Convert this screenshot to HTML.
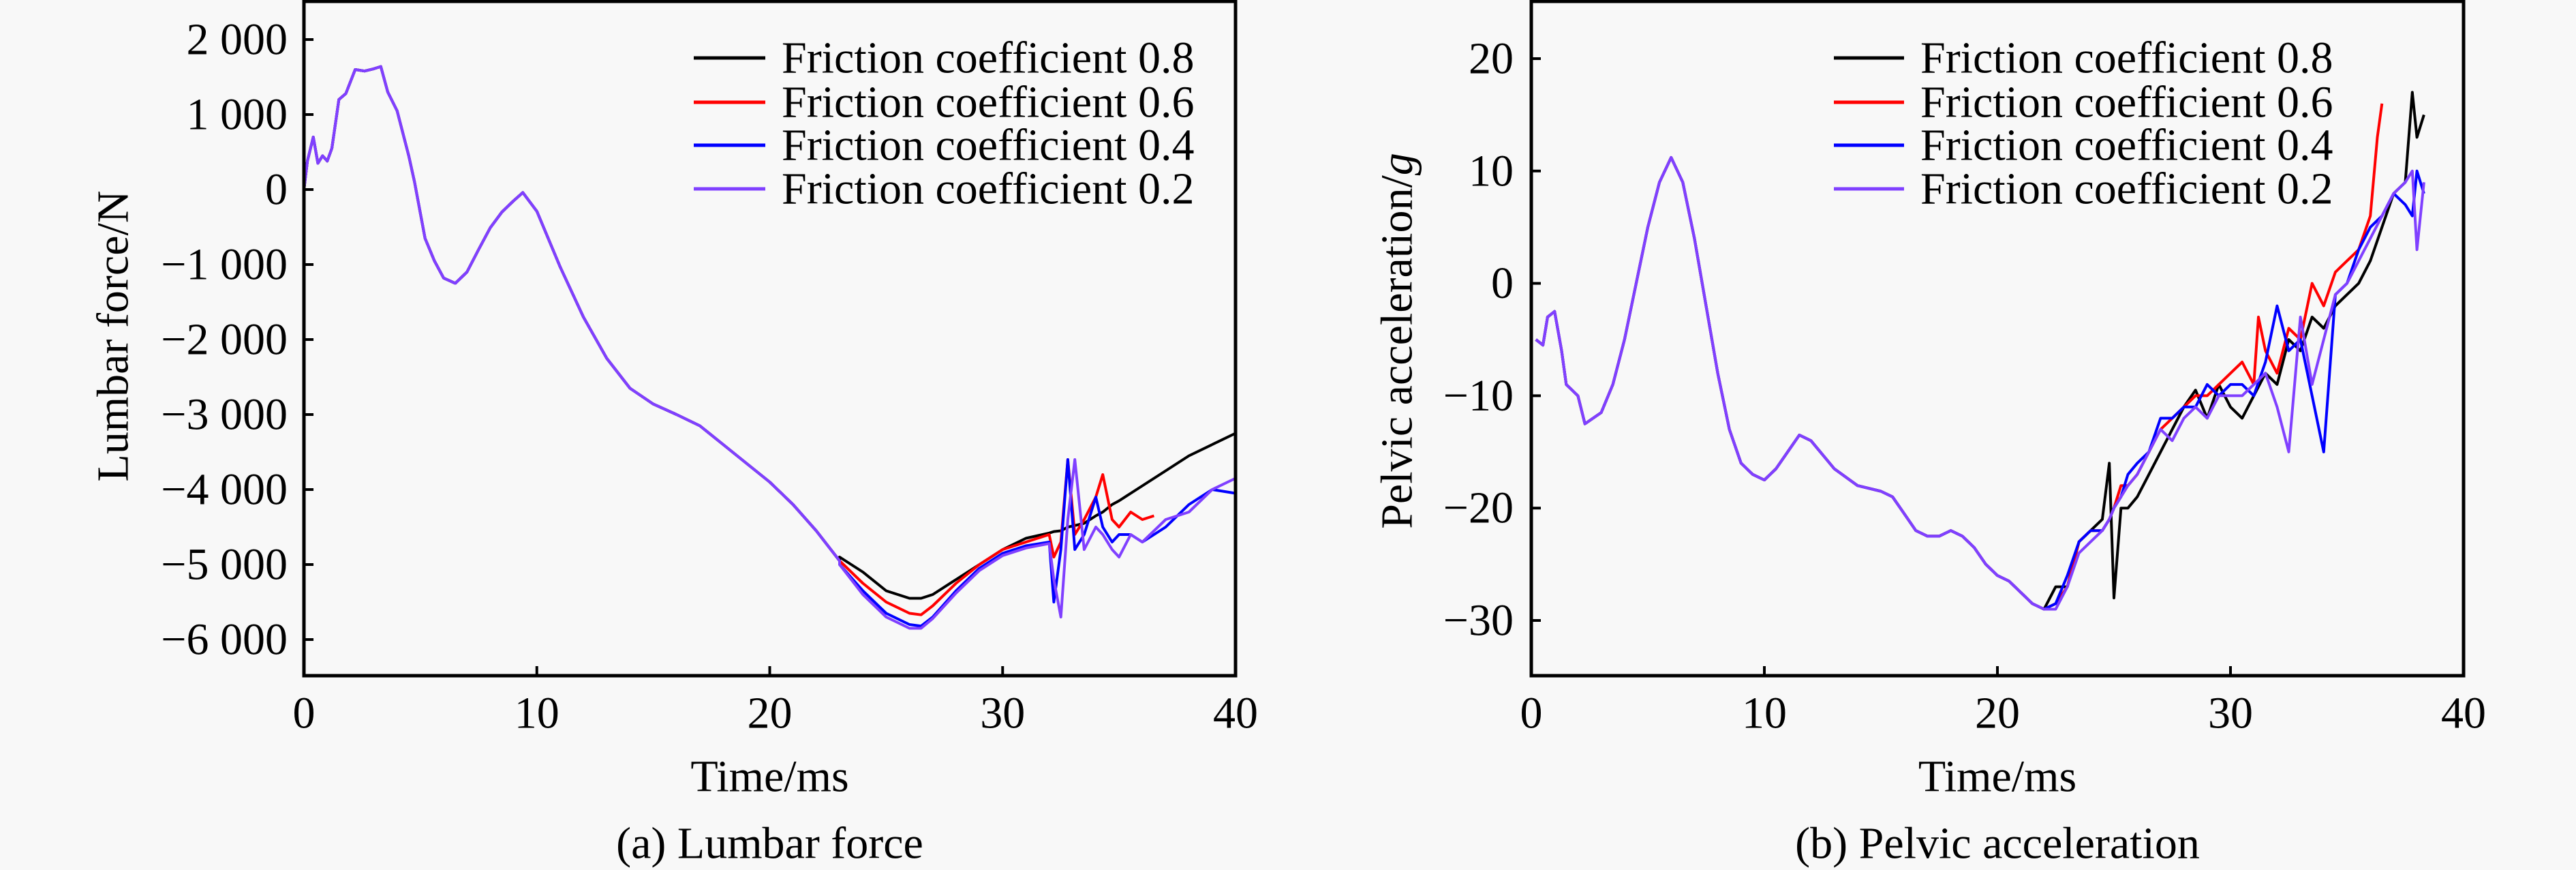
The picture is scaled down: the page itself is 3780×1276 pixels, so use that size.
<!DOCTYPE html>
<html><head><meta charset="utf-8"><style>
html,body{margin:0;padding:0;background:#f8f8f8;}
svg{display:block;font-family:"Liberation Serif","Times New Roman",serif;}
</style></head><body>
<svg id="fig" width="3780" height="1276" viewBox="0 0 3780 1276" xmlns="http://www.w3.org/2000/svg">
<rect x="0" y="0" width="3780" height="1276" fill="#f8f8f8"/>
</svg>
<script>
// ---- Shared
const seriesNames = ["Friction coefficient 0.8","Friction coefficient 0.6","Friction coefficient 0.4","Friction coefficient 0.2"];
const seriesColors = ["#000000","#ff0000","#0000ff","#8040ff"];
const xTicks = [0,10,20,30,40];

// ---- Plot (a) Lumbar force
const aYTicks = [2000,1000,0,-1000,-2000,-3000,-4000,-5000,-6000];
const aYTickLabels = ["2 000","1 000","0","\u22121 000","\u22122 000","\u22123 000","\u22124 000","\u22125 000","\u22126 000"];
const aEarlyT = [0,0.15,0.4,0.6,0.8,1.0,1.2,1.5,1.8,2.2,2.6,3.0,3.3,3.6,4,4.5,4.75,5.2,5.6,6,6.5,7,7.5,8,8.5,9,9.4,10,11,12,13,14,15,16,17,18,19,20,21,22,23];
const aEarlyV = [0,380,700,350,450,380,550,1200,1280,1600,1580,1610,1640,1300,1050,450,100,-650,-950,-1180,-1250,-1100,-800,-510,-300,-150,-40,-290,-1030,-1700,-2250,-2650,-2860,-3000,-3150,-3400,-3650,-3900,-4200,-4550,-4950];
const aTailT0 = [23,24,25,26,26.5,27,28,29,30,31,32,32.2,32.5,32.8,33.1,33.5,34,34.3,34.7,35,35.5,36,37,38,39,40];
const aTail08 = [-4900,-5100,-5350,-5450,-5450,-5400,-5200,-5000,-4800,-4650,-4580,-4560,-4550,-4500,-4480,-4450,-4350,-4300,-4200,-4150,-4050,-3950,-3750,-3550,-3400,-3250];
const aTailT06 = [23,24,25,26,26.5,27,28,29,30,31,32,32.2,32.5,32.8,33.1,33.5,34,34.3,34.7,35,35.5,36,36.5];
const aTail06 = [-4950,-5250,-5500,-5650,-5670,-5550,-5250,-5000,-4800,-4700,-4600,-4900,-4700,-3600,-4600,-4400,-4100,-3800,-4400,-4500,-4300,-4400,-4350];
const aTail04 = [-5000,-5350,-5650,-5800,-5820,-5700,-5350,-5050,-4850,-4750,-4700,-5500,-4800,-3600,-4800,-4600,-4100,-4500,-4700,-4600,-4600,-4700,-4500,-4200,-4000,-4050];
const aTail02 = [-5000,-5400,-5700,-5850,-5850,-5720,-5380,-5080,-4880,-4780,-4720,-5200,-5700,-4400,-3600,-4800,-4500,-4600,-4800,-4900,-4600,-4700,-4400,-4300,-4000,-3850];

// ---- Plot (b) Pelvic acceleration
const bYTicks = [20,10,0,-10,-20,-30];
const bYTickLabels = ["20","10","0","\u221210","\u221220","\u221230"];
const bEarlyT = [0.2,0.5,0.7,1,1.3,1.5,2,2.3,3,3.5,4,4.5,5,5.5,6,6.5,7,7.5,8,8.5,9,9.5,10,10.5,11,11.5,12,13,14,15,15.5,16,16.5,17,17.5,18,18.5,19,19.5,20,20.5,21,21.5,22];
const bEarlyV = [-5,-5.5,-3,-2.5,-6,-9,-10,-12.5,-11.5,-9,-5,0,5,9,11.2,9,4,-2,-8,-13,-16,-17,-17.5,-16.5,-15,-13.5,-14,-16.5,-18,-18.5,-19,-20.5,-22,-22.5,-22.5,-22,-22.5,-23.5,-25,-26,-26.5,-27.5,-28.5,-29];
const bTailT = [22.5,23,23.5,24,24.5,24.8,25,25.3,25.6,26,26.5,27,27.5,28,28.5,29,29.5,30,30.5,31,31.5,32,32.5,33,33.5,34,34.5,35,35.5,36,36.5,37,37.5,37.8,38,38.3];
const bTail08 = [-27,-27,-23,-22,-21,-16,-28,-20,-20,-19,-17,-15,-13,-11,-9.5,-12,-9,-11,-12,-10,-8,-9,-5,-6,-3,-4,-2,-1,0,2,5,8,9,17,13,15];
const bTailT06 = [22.5,23,23.5,24,24.5,24.8,25,25.3,25.6,26,26.5,27,27.5,28,28.5,29,29.5,30,30.5,31,31.2,31.5,32,32.5,33,33.5,34,34.5,35,35.5,36,36.3,36.5];
const bTail06 = [-28.5,-27,-23,-22,-22,-21,-20,-18,-18,-17,-15,-13,-12,-11,-10,-10,-9,-8,-7,-9,-3,-6,-8,-4,-5,0,-2,1,2,3,6,13,16];
const bTail04 = [-28.5,-26,-23,-22,-22,-21,-20,-19,-17,-16,-15,-12,-12,-11,-11,-9,-10,-9,-9,-10,-7,-2,-6,-5,-10,-15,-1,0,3,5,6,8,7,6,10,8];
const bTail02 = [-29,-27,-24,-23,-22,-21,-20,-19,-18,-17,-15,-13,-14,-12,-11,-12,-10,-10,-10,-9,-8,-11,-15,-3,-9,-5,-1,0,2,4,6,8,9,10,3,9];

const NS = "http://www.w3.org/2000/svg";
const svg = document.getElementById("fig");
const FS = 66;
function mk(tag, attrs, parent){ const e=document.createElementNS(NS,tag); for(const k in attrs) e.setAttribute(k,attrs[k]); (parent||svg).appendChild(e); return e; }
function txt(s,x,y,size,anchor,parent){ const t=mk("text",{x:x,y:y,"font-size":size,"text-anchor":anchor||"middle","dominant-baseline":"central",fill:"#000"},parent); t.textContent=s; return t; }

function drawPlot(cfg){
  const g = mk("g",{});
  
  
  const X = v => cfg.x0 + (v - 0) / 40 * (cfg.x1 - cfg.x0);
  const Y = v => cfg.yRef + (cfg.vRef - v) * cfg.pxPer;
  cfg.series.forEach((s,i)=>{
    const pts = s.t.map((t,j)=>X(t).toFixed(1)+","+Y(s.v[j]).toFixed(1)).join(" ");
    const pl = mk("polyline",{points:pts,fill:"none",stroke:seriesColors[i],"stroke-width":4,"stroke-linejoin":"round"},g);
    
    
  });
  const fr = mk("rect",{x:cfg.x0,y:cfg.yTop,width:cfg.x1-cfg.x0,height:cfg.yBot-cfg.yTop,fill:"none",stroke:"#000","stroke-width":5},g);
  
  
  cfg.yTicks.forEach((v,i)=>{
    const y=Y(v);
    const tk = mk("line",{x1:cfg.x0,x2:cfg.x0+14,y1:y,y2:y,stroke:"#000","stroke-width":4},g);
    
    
    const lb = txt(cfg.yLabels[i], cfg.yLabelX, y, FS, "end", g);
    
    
  });
  xTicks.forEach(v=>{
    const x=X(v);
    const tk = mk("line",{x1:x,x2:x,y1:cfg.yBot,y2:cfg.yBot-14,stroke:"#000","stroke-width":4},g);
    
    
    const lb = txt(String(v), x, 1046, FS, "middle", g);
    
    
  });
  const xt = txt("Time/ms",(cfg.x0+cfg.x1)/2,1139,FS,"middle",g);
  
  
  const cap = txt(cfg.caption,(cfg.x0+cfg.x1)/2,1237,FS,"middle",g);
  
  
  const yt = mk("text",{x:0,y:0,"font-size":FS,"text-anchor":"middle","dominant-baseline":"central",fill:"#000",transform:"translate("+cfg.yTitleX+","+cfg.yTitleY+") rotate(-90)"},g);
  yt.innerHTML = cfg.yTitle;
  
  
  const lg = mk("g",{},g);
  
  
  const rows=[85,150,213,277];
  seriesNames.forEach((n,i)=>{
    const ln = mk("line",{x1:cfg.legLine0,x2:cfg.legLine1,y1:rows[i],y2:rows[i],stroke:seriesColors[i],"stroke-width":5},lg);
    
    
    const lt = txt(n,cfg.legText,rows[i],FS,"start",lg);
    
    
  });
}

drawPlot({name:"lumbar-force-chart",x0:446,x1:1813,yTop:2,yBot:991,yRef:278,vRef:0,pxPer:0.110,
  yTicks:aYTicks,yLabels:aYTickLabels,yLabelX:422,yTitleX:166,yTitleY:493,yTitle:"Lumbar force/N",caption:"(a) Lumbar force",
  legLine0:1018,legLine1:1123,legText:1147,
  series:[
    {key:"0.8",t:aEarlyT.concat(aTailT0),v:aEarlyV.concat(aTail08)},
    {key:"0.6",t:aEarlyT.concat(aTailT06),v:aEarlyV.concat(aTail06)},
    {key:"0.4",t:aEarlyT.concat(aTailT0),v:aEarlyV.concat(aTail04)},
    {key:"0.2",t:aEarlyT.concat(aTailT0),v:aEarlyV.concat(aTail02)}
  ]});
drawPlot({name:"pelvic-acceleration-chart",x0:2247,x1:3615,yTop:2,yBot:991,yRef:86,vRef:20,pxPer:16.48,
  yTicks:bYTicks,yLabels:bYTickLabels,yLabelX:2221,yTitleX:2050,yTitleY:500,yTitle:"Pelvic acceleration/<tspan font-style='italic'>g</tspan>",caption:"(b) Pelvic acceleration",
  legLine0:2691,legLine1:2794,legText:2818,
  series:[
    {key:"0.8",t:bEarlyT.concat(bTailT),v:bEarlyV.concat(bTail08)},
    {key:"0.6",t:bEarlyT.concat(bTailT06),v:bEarlyV.concat(bTail06)},
    {key:"0.4",t:bEarlyT.concat(bTailT),v:bEarlyV.concat(bTail04)},
    {key:"0.2",t:bEarlyT.concat(bTailT),v:bEarlyV.concat(bTail02)}
  ]});
</script>
</body></html>
